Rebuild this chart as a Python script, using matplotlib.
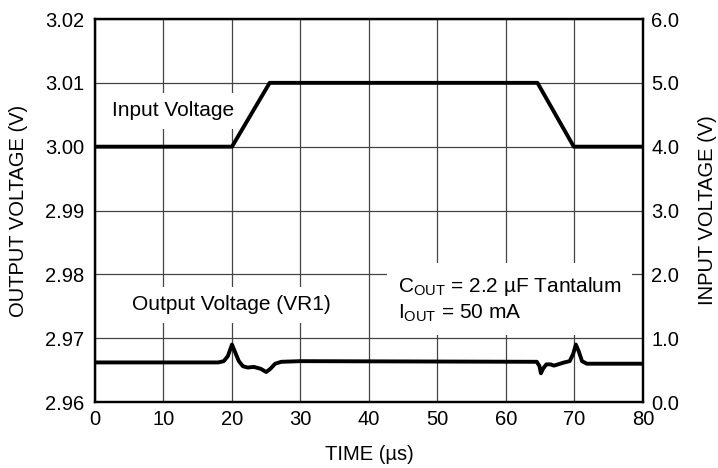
import matplotlib.pyplot as plt

plt.rcParams['font.family'] = ['Liberation Sans', 'DejaVu Sans']
plt.rcParams['mathtext.fontset'] = 'custom'
plt.rcParams['mathtext.rm'] = 'Liberation Sans'
plt.rcParams['mathtext.it'] = 'Liberation Sans'

# Output voltage (left axis, V)
t_out = [0, 18.0, 18.8, 19.4, 20.0, 20.5, 21.0, 21.6, 22.3, 23.2, 24.2, 25.0, 25.6, 26.3, 27.2, 30,
         64.5, 64.9, 65.1, 65.4, 65.9, 66.5, 67.0, 67.6, 68.5, 69.3, 69.8, 70.2, 70.6, 71.1, 71.8, 80]
v_out = [2.9662, 2.9662, 2.9664, 2.9672, 2.9690, 2.9677, 2.9664, 2.9656, 2.9654, 2.9655, 2.9652,
         2.9647, 2.9652, 2.9660, 2.9663, 2.9664,
         2.9663, 2.9656, 2.9645, 2.9652, 2.9659, 2.9659, 2.9657, 2.9659, 2.9662, 2.9664, 2.9675,
         2.9690, 2.9680, 2.9664, 2.9660, 2.9660]

# Input voltage (right axis, V)
t_in = [0, 20, 25.5, 64.6, 69.9, 80]
v_in = [4.0, 4.0, 5.0, 5.0, 4.0, 4.0]

x_ticks = [0, 10, 20, 30, 40, 50, 60, 70, 80]
left_ticks = [2.96, 2.97, 2.98, 2.99, 3.00, 3.01, 3.02]
right_ticks = [0, 1, 2, 3, 4, 5, 6]

fs = 14.5

fig = plt.figure(figsize=(7.18, 4.68), dpi=100)
ax = fig.add_axes([0.1323, 0.141, 0.7632, 0.8184])
ax2 = ax.twinx()

ax.set_xlim(0, 80)
ax.set_ylim(2.96, 3.02)
ax2.set_ylim(0, 6)
ax.set_xticks(x_ticks)
ax.set_yticks(left_ticks)
ax.set_yticklabels([f"{v:.2f}" for v in left_ticks])
ax2.set_yticks(right_ticks)
ax2.set_yticklabels([f"{v:.1f}" for v in right_ticks])

ax.grid(True, color='#444444', linewidth=0.9)
ax.set_axisbelow(True)
ax.tick_params(axis='x', length=0, labelsize=fs, pad=6)
ax.tick_params(axis='y', length=0, labelsize=fs, pad=8)
ax2.tick_params(axis='y', length=0, labelsize=fs, pad=6)
for a in (ax, ax2):
    for s in a.spines.values():
        s.set_linewidth(1.6)

ax.plot(t_out, v_out, color='black', linewidth=2.8, zorder=3)
ax2.plot(t_in, v_in, color='black', linewidth=2.8, zorder=3)

ax.set_xlabel('TIME (µs)', fontsize=fs)
ax.set_ylabel('OUTPUT VOLTAGE (V)', fontsize=fs)
ax2.set_ylabel('INPUT VOLTAGE (V)', fontsize=fs)
ax.xaxis.set_label_coords(0.5, -0.112)
ax.yaxis.set_label_coords(-0.122, 0.5)
ax2.yaxis.set_label_coords(1.100, 0.5)

box = dict(facecolor='white', edgecolor='none', pad=6)
ax.text(11.4, 3.0056, 'Input Voltage', fontsize=15, ha='center', va='center',
        bbox=box, zorder=2)
ax.text(19.9, 2.9752, 'Output Voltage (VR1)', fontsize=15, ha='center', va='center',
        bbox=box, zorder=2)
ax.text(44.2, 2.9761, '$\\mathregular{C_{OUT}}$ = 2.2 µF Tantalum\n$\\mathregular{I_{OUT}}$ = 50 mA',
        fontsize=15, ha='left', va='center', linespacing=1.3,
        bbox=dict(facecolor='white', edgecolor='none', pad=8), zorder=2)

fig.savefig('out.png', dpi=100)
